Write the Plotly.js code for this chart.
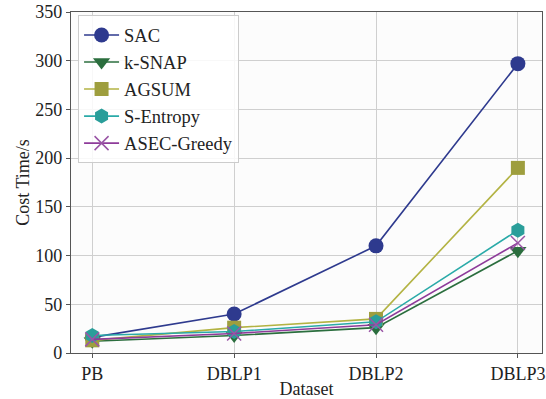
<!DOCTYPE html>
<html><head><meta charset="utf-8">
<script src="https://cdn.plot.ly/plotly-3.0.1.min.js"></script>
<style>html,body{margin:0;padding:0;background:#fff}#c{width:546px;height:399px}</style>
</head><body><div id="c"></div>
<script>
const categories = ["PB", "DBLP1", "DBLP2", "DBLP3"];
const seriesNames = ["SAC", "k-SNAP", "AGSUM", "S-Entropy", "ASEC-Greedy"];
const sac = [16, 40, 110, 297];
const ksnap = [12, 18, 26, 105];
const agsum = [13, 26, 35, 190];
const sentropy = [18, 22, 32, 126];
const asecGreedy = [14, 20, 29, 113];
const yTicks = [0, 50, 100, 150, 200, 250, 300, 350];

const styles = [
  {line:"#2e3a8e", marker:"#2e3a8e", symbol:"circle", size:15},
  {line:"#2b6e3e", marker:"#2b6e3e", symbol:"triangle-down", size:15},
  {line:"#b3b343", marker:"#9e9e3e", symbol:"square", size:14},
  {line:"#2aaaa8", marker:"#2a9e9a", symbol:"hexagon", size:15},
  {line:"#8e3b9a", marker:"#9a55a6", symbol:"x-thin-open", size:14}
];
const values = [sac, ksnap, agsum, sentropy, asecGreedy];
const traces = values.map((v, i) => ({
  x: categories.map((c, j) => j), y: v, name: seriesNames[i],
  type: "scatter", mode: "lines+markers",
  line: {color: styles[i].line, width: 1.6},
  marker: {symbol: styles[i].symbol, size: styles[i].size, color: styles[i].marker,
           line: {color: styles[i].marker, width: styles[i].symbol === "x-thin-open" ? 1.5 : 0}}
}));
const serif = "'Liberation Serif', 'Times New Roman', serif";
const layout = {
  width: 546, height: 399,
  margin: {l: 71, r: 4, t: 12, b: 46},
  paper_bgcolor: "#fff", plot_bgcolor: "#fcfcfc",
  font: {family: serif, size: 18, color: "#222"},
  showlegend: true,
  legend: {x: 0.015, y: 0.99, xanchor: "left", yanchor: "top", bgcolor: "rgba(255,255,255,0.85)",
           bordercolor: "#ccc", borderwidth: 1, font: {family: serif, size: 18.5}, tracegroupgap: 0, itemwidth: 35},
  xaxis: {
    range: [-0.15, 3.17], tickvals: [0,1,2,3], ticktext: categories,
    tickfont: {family: serif, size: 18}, ticklabeloverflow: "allow",
    showgrid: true, gridcolor: "#cfcfcf", gridwidth: 1,
    showline: true, linecolor: "#555", linewidth: 1.2, mirror: true,
    ticks: "outside", ticklen: 4, tickcolor: "#555", zeroline: false,
    title: {text: "Dataset", font: {family: serif, size: 18}, standoff: 0}
  },
  yaxis: {
    range: [0, 350], tickvals: yTicks,
    tickfont: {family: serif, size: 18},
    showgrid: true, gridcolor: "#cfcfcf", gridwidth: 1,
    showline: true, linecolor: "#555", linewidth: 1.2, mirror: true,
    ticks: "outside", ticklen: 4, tickcolor: "#555", zeroline: false,
    title: {text: "Cost Time/s", font: {family: serif, size: 18}, standoff: 1}
  }
};
Plotly.newPlot("c", traces, layout, {displayModeBar: false, staticPlot: true});
</script></body></html>
